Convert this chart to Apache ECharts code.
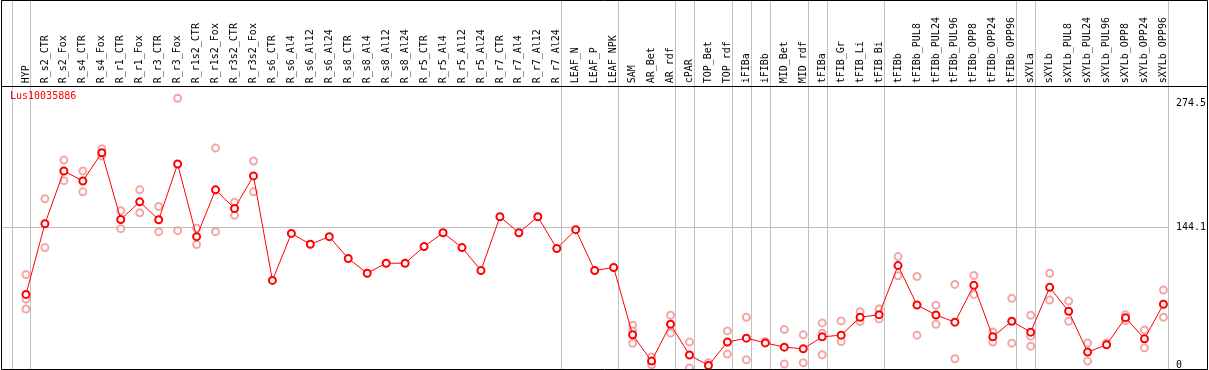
<!DOCTYPE html>
<html>
<head>
<meta charset="utf-8">
<script src="https://cdn.jsdelivr.net/npm/echarts@6/dist/echarts.min.js"></script>
<style>
  html, body { margin: 0; padding: 0; background: #fff; }
  #chart { width: 1209px; height: 370px; }
</style>
</head>
<body>
<div id="chart"></div>
<script>
// sample names, left to right
const categories = [
  "HYP",
  "R_s2_CTR", "R_s2_Fox", "R_s4_CTR", "R_s4_Fox", "R_r1_CTR", "R_r1_Fox",
  "R_r3_CTR", "R_r3_Fox", "R_r1s2_CTR", "R_r1s2_Fox", "R_r3s2_CTR", "R_r3s2_Fox",
  "R_s6_CTR", "R_s6_Al4", "R_s6_Al12", "R_s6_Al24",
  "R_s8_CTR", "R_s8_Al4", "R_s8_Al12", "R_s8_Al24",
  "R_r5_CTR", "R_r5_Al4", "R_r5_Al12", "R_r5_Al24",
  "R_r7_CTR", "R_r7_Al4", "R_r7_Al12", "R_r7_Al24",
  "LEAF_N", "LEAF_P", "LEAF_NPK",
  "SAM", "AR_Bet", "AR_rdf", "cPAR", "TOP_Bet", "TOP_rdf", "iFIBa", "iFIBb",
  "MID_Bet", "MID_rdf", "tFIBa", "tFIB_Gr", "tFIB_Li", "tFIB_Bi",
  "tFIBb", "tFIBb_PUL8", "tFIBb_PUL24", "tFIBb_PUL96", "tFIBb_OPP8", "tFIBb_OPP24", "tFIBb_OPP96",
  "sXYLa",
  "sXYLb", "sXYLb_PUL8", "sXYLb_PUL24", "sXYLb_PUL96", "sXYLb_OPP8", "sXYLb_OPP24", "sXYLb_OPP96"
];

// mean expression per sample
const meanValues = [
  76.4,
  147.8, 201.1, 191.0, 219.5, 152.1, 169.9,
  151.8, 208.1, 134.7, 182.0, 163.2, 196.1,
  90.5, 138.0, 127.0, 134.7,
  112.6, 97.8, 107.9, 107.9,
  124.7, 138.7, 123.7, 100.5,
  154.8, 138.7, 154.8, 122.7,
  141.8, 100.5, 103.6,
  35.5, 9.0, 46.2, 15.1, 4.6, 28.2, 32.2, 27.4,
  23.1, 21.4, 33.5, 35.2, 53.3, 55.9,
  105.5, 65.7, 55.6, 48.3, 85.5, 33.5, 49.3,
  38.2,
  83.5, 59.3, 18.1, 25.4, 52.9, 31.5, 66.4
];

// single replicates (the ones visible apart from the mean)
const replicateValues = [
  [96.5, 71.7, 61.6],
  [172.9, 123.7], [212.1, 191.3], [201.1, 180.0], [223.5, 216.2], [160.9, 142.8], [182.0, 158.9],
  [165.2, 139.8], [274.5, 140.8], [143.1, 126.7], [224.2, 139.8], [169.5, 156.4], [211.1, 180.0],
  [], [], [], [],
  [], [], [], [],
  [], [], [], [],
  [], [], [], [],
  [], [], [],
  [45.2, 39.5, 27.0], [13.1, 5.3], [55.3, 37.2], [28.2, 2.0], [7.3], [39.5, 16.1], [53.3, 10.4], [28.8],
  [40.8, 6.0], [35.5, 7.3], [47.6, 37.2, 15.4], [49.6, 28.8], [58.9, 49.0], [61.6, 51.6],
  [114.6, 95.1], [94.5, 35.2], [65.4, 46.2], [86.5, 11.4], [95.5, 76.4], [38.5, 28.2], [72.4, 27.1],
  [55.3, 34.2, 24.1],
  [97.8, 70.7], [69.7, 49.3], [27.4, 9.0], [27.4], [55.9, 49.9], [40.5, 22.4], [80.7, 53.3]
];

// index of the last sample in each group (-1 = line before the first group)
const groupEnds = [-1, 0, 28, 31, 34, 35, 37, 38, 39, 41, 42, 45, 52, 53, 60];

const yTicks = [0, 144.1, 274.5];
const yGridValues = [144.1];
const geneName = "Lus10035886";

const FONT = "DejaVu Sans Mono";
const SEP_OFFSET = 0.237; // separator sits a bit right of the sample centre

const chart = echarts.init(document.getElementById("chart"), null, { renderer: "canvas" });

const repData = [];
replicateValues.forEach((vals, i) => {
  vals.forEach((v) => repData.push([i, v]));
});

const option = {
  animation: false,
  title: {
    text: geneName,
    left: 10,
    top: 91,
    padding: 0,
    textStyle: { color: "#ff0000", fontSize: 10, fontFamily: FONT, fontWeight: "normal" },
  },
  grid: {
    left: 16.5,
    top: 98.3,
    width: 1159,
    height: 273,
    containLabel: false,
  },
  xAxis: {
    type: "category",
    position: "top",
    data: categories,
    boundaryGap: true,
    axisLine: { show: false },
    axisTick: { show: false },
    splitLine: { show: false },
    axisLabel: {
      interval: 0,
      rotate: 90,
      margin: 15,
      color: "#000",
      fontSize: 10,
      fontFamily: FONT,
    },
  },
  yAxis: {
    type: "value",
    position: "right",
    min: 0,
    max: 274.5,
    axisLine: { show: false },
    axisTick: { show: false },
    splitLine: { show: false },
    axisLabel: {
      customValues: yTicks,
      margin: 3,
      color: "#000",
      fontSize: 10,
      fontFamily: FONT,
      verticalAlignMinLabel: "bottom",
      verticalAlignMaxLabel: "top",
    },
  },
  graphic: [
    {
      type: "rect",
      shape: { x: 1.5, y: 0.5, width: 1206, height: 369 },
      style: { fill: null, stroke: "#000", lineWidth: 1 },
      z: 100,
    },
    {
      type: "line",
      shape: { x1: 1, y1: 86.5, x2: 1208, y2: 86.5 },
      style: { stroke: "#000", lineWidth: 1 },
      z: 100,
    },
  ],
  series: [
    {
      // group separators
      type: "custom",
      clip: false,
      silent: true,
      z: 1,
      data: groupEnds.map((g) => [0, 0, g]),
      renderItem: function (params, api) {
        const band = api.size([1, 0])[0];
        const x0 = api.coord([0, 0])[0];
        const x = Math.round(x0 + (api.value(2) + SEP_OFFSET) * band) + 0.5;
        return {
          type: "line",
          shape: { x1: x, y1: 0, x2: x, y2: api.getHeight() },
          style: { stroke: "#c0c0c0", lineWidth: 1 },
        };
      },
    },
    {
      // horizontal reference line
      type: "custom",
      clip: false,
      silent: true,
      z: 1,
      data: yGridValues.map((v) => [0, v]),
      renderItem: function (params, api) {
        const band = api.size([1, 0])[0];
        const x0 = api.coord([0, 0])[0];
        const xEnd = x0 + (categories.length - 1 + SEP_OFFSET) * band;
        const y = Math.round(api.coord([0, api.value(1)])[1]) + 0.5;
        return {
          type: "line",
          shape: { x1: 1, y1: y, x2: xEnd, y2: y },
          style: { stroke: "#c0c0c0", lineWidth: 1 },
        };
      },
    },
    {
      name: "replicates",
      type: "scatter",
      data: repData,
      symbol: "emptyCircle",
      symbolSize: 7,
      z: 2,
      itemStyle: { color: "#f09090", borderColor: "#f09090", borderWidth: 1 },
    },
    {
      name: "mean",
      type: "line",
      data: meanValues,
      symbol: "emptyCircle",
      symbolSize: 7,
      showAllSymbol: true,
      z: 3,
      lineStyle: { color: "#ff0000", width: 1 },
      itemStyle: { color: "#ff0000", borderColor: "#ff0000", borderWidth: 1.5 },
    },
  ],
};

chart.setOption(option);
</script>
</body>
</html>
